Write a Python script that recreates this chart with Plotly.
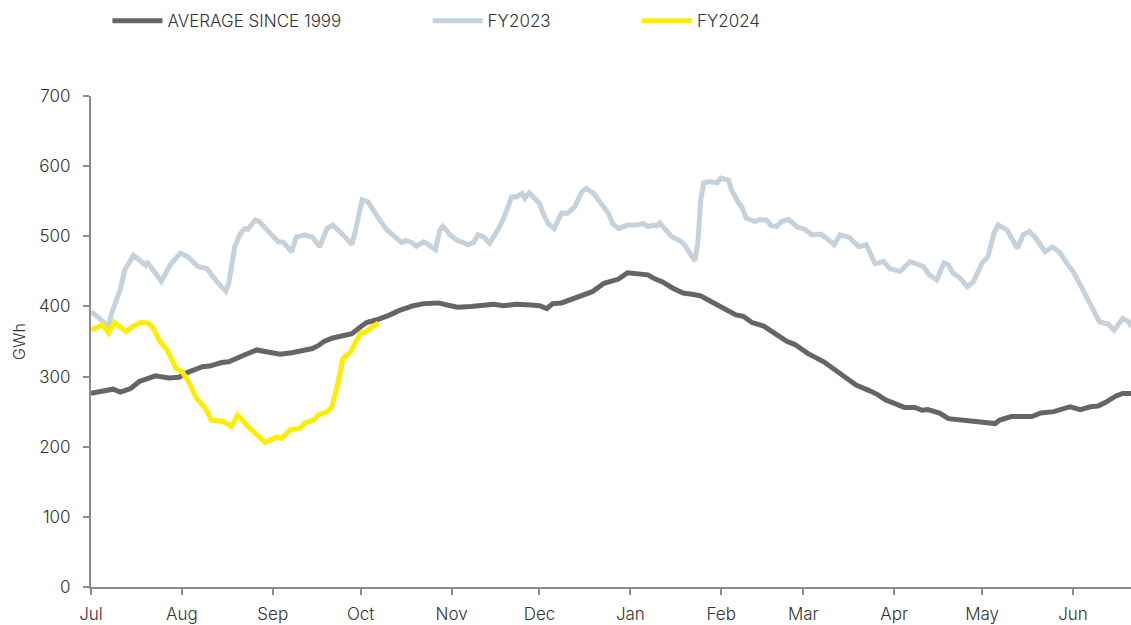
import pandas as pd
import plotly.graph_objects as go

START = "2022-07-01"

# Day offsets from 1 July and values (GWh)
avg_days = [0, 3.5, 7.5, 10, 13.5, 16.5, 22, 26.5, 30, 33, 38, 40.5, 44.5, 47, 51, 52.5, 56.5, 60, 64.5, 68.5,
            75.5, 77.5, 79.5, 82.5, 86, 89, 92, 94, 97.5, 100, 102, 105, 110, 113.5, 118.5, 121.5, 125, 129.5,
            132.5, 137.5, 140.5, 145, 150, 153, 155.5, 157.5, 160.5, 165, 168.5, 171, 175, 180, 183, 187, 190,
            192, 195, 198.5, 202, 205.5, 208, 211.5, 216, 220, 222.5, 225.5, 229.5, 233.5, 237.5, 240, 244.5,
            250, 254.5, 257.5, 261, 265.5, 268.5, 271, 275, 277.5, 281, 283.5, 285.5, 289.5, 292.5, 297, 300.5,
            306.5, 308.5, 310, 314, 321, 324, 328.5, 334, 337.5, 341, 343.5, 346, 349.5, 352, 355]
avg_vals = [276, 278, 282, 278, 283, 293, 301, 298, 299, 306, 314, 315, 320, 321, 329, 331, 338, 335, 332, 334,
            340, 344, 350, 355, 359, 361, 371, 377, 381, 384, 388, 394, 401, 404, 405, 402, 399, 400,
            401, 403, 401, 403, 402, 401, 397, 404, 405, 412, 419, 421, 433, 439, 448, 447, 445,
            440, 435, 426, 419, 417, 415, 407, 396, 388, 386, 377, 372, 362, 350, 346, 333,
            321, 307, 298, 288, 280, 274, 267, 261, 256, 256, 252, 253, 248, 240, 238, 236,
            233, 233, 238, 243, 243, 248, 250, 257, 253, 257, 258, 263, 272, 276, 276]

fy23_days = [0, 2.5, 4, 6, 7, 9, 10, 11.5, 14.5, 16.5, 18.5, 19, 22, 24, 27, 30.5, 33, 36.5, 39.5, 43, 46, 47,
             49, 51, 52.5, 53.5, 56, 57.5, 60.5, 64, 65.5, 68.5, 70, 73, 75.5, 78, 80.5, 82.5, 86, 89, 90,
             92.5, 94.5, 96.5, 98.5, 101, 103, 106, 107.5, 109.5, 111, 113.5, 115, 117.5, 119, 120, 122.5,
             125, 127, 128.5, 130.5, 132, 134, 136, 138.5, 140.5, 143.5, 145, 147, 148, 149.5, 151.5, 153,
             154.5, 156, 158, 160.5, 162.5, 165, 167.5, 169, 171.5, 174, 176.5, 178, 180, 183, 186, 188.5,
             190, 192, 193, 194, 196, 198, 201.5, 203, 205, 206, 207, 208, 209, 211, 213.5, 215, 217.5,
             218.5, 221, 222, 223.5, 225.5, 226.5, 228, 230.5, 232, 234, 235.5, 238, 241, 243.5, 246, 249,
             251, 253.5, 255.5, 258.5, 262, 264.5, 267.5, 270.5, 272.5, 276, 279.5, 281.5, 284, 286, 288.5,
             291, 292.5, 294, 296.5, 299, 301, 304, 306, 308, 309.5, 312.5, 316, 318, 320, 322, 325.5, 328,
             330.5, 333, 335, 338.5, 342, 344, 347, 349, 352, 354, 355]
fy23_vals = [393, 385, 380, 372, 390, 414, 424, 452, 473, 466, 459, 464, 447, 436, 459, 476, 471, 457, 454, 435, 422, 433,
             485, 504, 511, 510, 523, 521, 507, 492, 492, 478, 499, 502, 499, 485, 511, 516, 502, 488, 504,
             552, 549, 535, 523, 509, 502, 491, 494, 491, 486, 492, 488, 481, 509, 514, 502,
             494, 491, 488, 491, 502, 499, 490, 507, 523, 556, 556, 561, 554, 562, 552, 547,
             530, 518, 511, 533, 533, 542, 564, 568, 561, 547, 533, 518, 511, 516, 516, 518,
             514, 516, 515, 519, 509, 500, 492, 485, 471, 465, 490, 552, 576, 578, 576, 583, 580,
             566, 547, 542, 526, 523, 521, 524, 523, 515, 514, 521, 524, 513, 510, 502, 503,
             497, 488, 502, 499, 485, 488, 461, 464, 454, 450, 464, 461, 457, 445, 438,
             462, 459, 448, 440, 428, 435, 462, 471, 504, 516, 509, 483, 502, 507, 499, 478, 485,
             477, 461, 450, 423, 395, 378, 375, 366, 383, 378, 371]

fy24_days = [0, 3, 4, 6, 8, 12, 14, 17, 19.5, 21, 23.5, 26, 29, 31, 33, 36, 39, 41, 45, 48, 50, 54, 56.5, 59.5,
             63.5, 65, 68, 71, 73, 76, 77.5, 80.5, 82, 84, 86, 88.5, 92, 94, 96, 98]
fy24_vals = [366, 371, 374, 362, 377, 364, 371, 377, 376, 371, 350, 338, 312, 307, 295, 269, 255, 238, 236, 229, 245, 227, 217, 206,
             214, 212, 224, 226, 234, 238, 245, 250, 255, 286, 326, 335, 362, 364, 371, 376]

series_names = ["AVERAGE SINCE 1999", "FY2023", "FY2024"]
series_colors = ["#656569", "#c4d2dd", "#ffed00"]
y_ticks = [0, 100, 200, 300, 400, 500, 600, 700]

PAD = "\u00a0" * 17


def to_dates(days):
    return pd.Timestamp(START) + pd.to_timedelta(days, unit="D")


fig = go.Figure()
for i, (name, days, vals, col) in enumerate(zip(series_names,
                                               [avg_days, fy23_days, fy24_days],
                                               [avg_vals, fy23_vals, fy24_vals],
                                               series_colors)):
    label = name + (PAD if i < len(series_names) - 1 else "")
    fig.add_trace(go.Scatter(x=to_dates(days), y=vals, mode="lines", name=label,
                             line=dict(color=col, width=5)))

FONT = "Inter"
TXT = "#333333"
AX = "#8c8c8c"
fig.update_layout(
    width=1131, height=625,
    margin=dict(l=91, r=0, t=96, b=38),
    paper_bgcolor="white", plot_bgcolor="white",
    font=dict(family=FONT, size=15, color=TXT, weight=300),
    showlegend=True,
    legend=dict(orientation="h", xref="container", yref="container",
                x=0.095, y=0.995, xanchor="left", yanchor="top",
                itemwidth=50, font=dict(family=FONT, size=17, color=TXT, weight=300),
                bgcolor="rgba(0,0,0,0)"),
    xaxis=dict(type="date", range=[START, "2023-06-20 19:00"],
               dtick="M1", tick0=START, tickformat="%b",
               showgrid=False, zeroline=False,
               showline=True, linecolor=AX, linewidth=2,
               ticks="outside", ticklen=6, tickwidth=2, tickcolor=AX,
               ticklabelstandoff=5,
               tickfont=dict(family=FONT, size=17, color=TXT, weight=300)),
    yaxis=dict(range=[0, 700], tickvals=y_ticks, showgrid=False, zeroline=False,
               showline=True, linecolor=AX, linewidth=2,
               ticks="outside", ticklen=6, tickwidth=2, tickcolor=AX,
               ticklabelstandoff=9,
               tickfont=dict(family=FONT, size=17, color=TXT, weight=300),
               title=dict(text="GWh", font=dict(family=FONT, size=16, color=TXT, weight=300),
                          standoff=9)),
)

fig.write_html("out.html", config={"displayModeBar": False},
               post_script="document.body.style.margin='0';")
